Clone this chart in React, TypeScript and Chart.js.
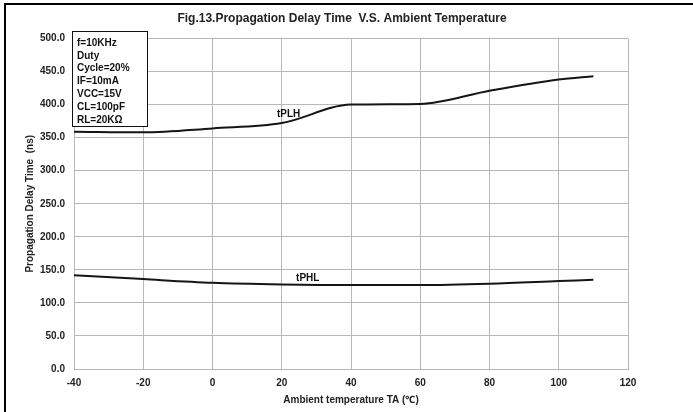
import React, { useEffect, useRef } from "react";
import { Chart, registerables } from "chart.js";

Chart.register(...registerables);

const temps = [-40, -20, 0, 20, 40, 60, 80, 100, 110];
const tPLH = [359, 358, 364, 372, 400, 401, 421, 438, 443];
const tPHL = [142, 136, 130.5, 128, 127, 127, 129, 133, 135];
const conditions = ["f=10KHz", "Duty", "Cycle=20%", "IF=10mA", "VCC=15V", "CL=100pF", "RL=20KΩ"];
const titleText = "Fig.13.Propagation Delay Time  V.S. Ambient Temperature";
const xTitle = "Ambient temperature TA (℃)";
const yTitle = "Propagation Delay Time  (ns)";

const FONT = "'Liberation Sans Narrow', 'Liberation Sans', 'Noto Sans', sans-serif";

const decor = {
  id: "decor",
  afterDraw(chart: any) {
    const ctx = chart.ctx;
    const xs = chart.scales.x;
    const ys = chart.scales.y;
    ctx.save();
    // frame
    ctx.fillStyle = "#000";
    ctx.fillRect(4, 3, 2, 409);
    ctx.fillRect(4, 3, 689, 2);
    // title
    ctx.fillStyle = "#222";
    ctx.font = `bold 12px ${FONT}`;
    ctx.textAlign = "center";
    ctx.textBaseline = "middle";
    ctx.fillText(titleText, 342, 19);
    // condition box
    ctx.fillStyle = "#fff";
    ctx.fillRect(72.5, 31.5, 75, 95);
    ctx.strokeStyle = "#111";
    ctx.lineWidth = 1;
    ctx.strokeRect(72.5, 31.5, 75, 95);
    ctx.fillStyle = "#111";
    ctx.font = `bold 10px ${FONT}`;
    ctx.textAlign = "left";
    conditions.forEach((t, i) => {
      ctx.fillText(t, 77, 43 + i * 12.8);
    });
    // series labels
    ctx.textAlign = "center";
    ctx.fillText("tPLH", xs.getPixelForValue(22), ys.getPixelForValue(386));
    ctx.fillText("tPHL", xs.getPixelForValue(27.5), ys.getPixelForValue(137.5));
    ctx.restore();
  },
};

export default function App() {
  const ref = useRef<HTMLCanvasElement>(null);
  useEffect(() => {
    const grid = "#b8b8b8";
    const chart = new Chart(ref.current!, {
      type: "line",
      data: {
        datasets: [
          {
            label: "tPLH",
            data: temps.map((t, i) => ({ x: t, y: tPLH[i] })),
            borderColor: "#151515",
            borderWidth: 2,
            pointRadius: 0,
            cubicInterpolationMode: "monotone",
            fill: false,
          },
          {
            label: "tPHL",
            data: temps.map((t, i) => ({ x: t, y: tPHL[i] })),
            borderColor: "#151515",
            borderWidth: 2,
            pointRadius: 0,
            cubicInterpolationMode: "monotone",
            fill: false,
          },
        ],
      },
      options: {
        animation: false,
        responsive: false,
        layout: { padding: { left: 0, right: 65, top: 38.5, bottom: 0 } },
        plugins: { legend: { display: false }, tooltip: { enabled: false }, title: { display: false } },
        scales: {
          x: {
            type: "linear",
            min: -40,
            max: 120,
            ticks: { stepSize: 20, padding: 8, color: "#222", font: { family: FONT, size: 10, weight: "bold" } },
            grid: { color: grid, lineWidth: 1, drawTicks: false },
            border: { display: true, color: grid },
            title: { display: true, text: xTitle, color: "#222", padding: { top: 0, bottom: 6 }, font: { family: FONT, size: 10, weight: "bold" } },
            afterFit: (s: any) => { s.height = 43; },
          },
          y: {
            min: 0,
            max: 500,
            ticks: { stepSize: 50, padding: 9, color: "#222", font: { family: FONT, size: 10, weight: "bold" }, callback: (v: any) => Number(v).toFixed(1) },
            grid: { color: grid, lineWidth: 1, drawTicks: false },
            border: { display: true, color: grid },
            title: { display: true, text: yTitle, color: "#222", padding: { top: 24, bottom: 0 }, font: { family: FONT, size: 10, weight: "bold" } },
            afterFit: (s: any) => { s.width = 74; },
          },
        },
      },
      plugins: [decor],
    } as any);
    return () => chart.destroy();
  }, []);
  return (
    <div style={{ position: "absolute", left: 0, top: 0, width: 693, height: 412, background: "#fff" }}>
      <canvas ref={ref} width={693} height={412} style={{ display: "block" }} />
    </div>
  );
}
